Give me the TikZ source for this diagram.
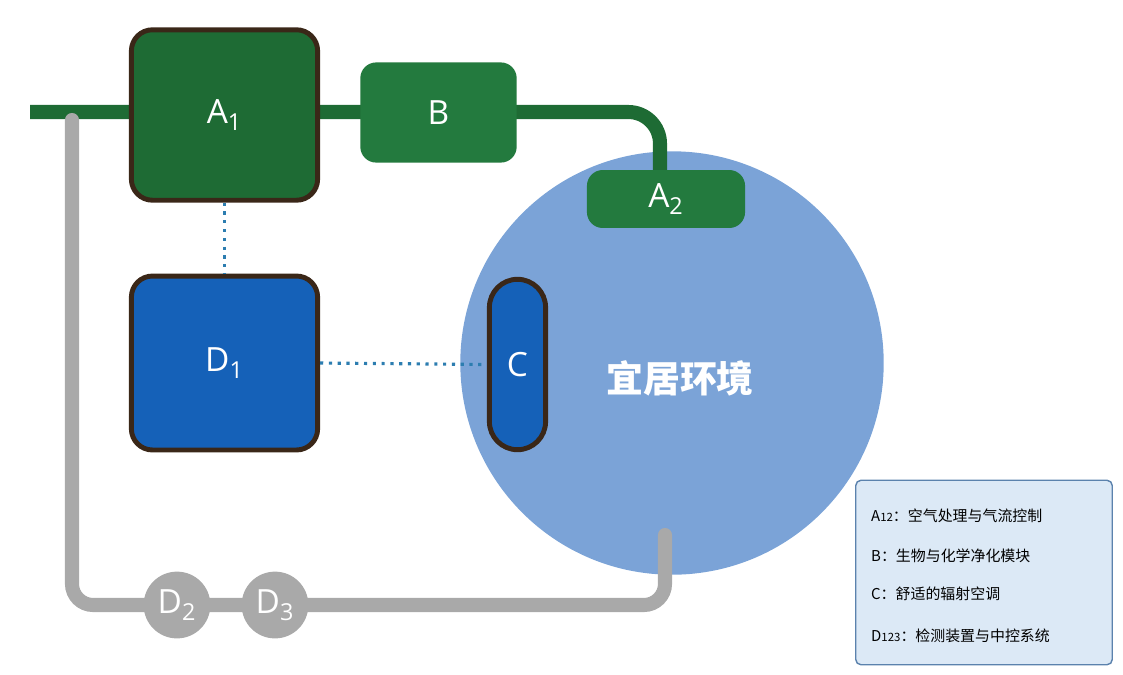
\documentclass[tikz,border=0pt]{standalone}
\usepackage{fontspec}
\setmainfont{Open Sans}
\newfontfamily\cjk{Noto Sans CJK SC}
\definecolor{dgreen}{HTML}{1E6B34}
\definecolor{mgreen}{HTML}{237A3E}
\definecolor{brd}{HTML}{3A2718}
\definecolor{dblue}{HTML}{1561B8}
\definecolor{lblue}{HTML}{7BA3D7}
\definecolor{pgray}{HTML}{A9A9A9}
\definecolor{dot}{HTML}{2C7DB0}
\definecolor{legf}{HTML}{DCE9F6}
\definecolor{legb}{HTML}{5B82AD}
\begin{document}
\begin{tikzpicture}[x=0.02cm,y=-0.02cm,
  box/.style={draw=brd,line width=2.8pt,rounded corners=12pt,text=white,font=\fontsize{19}{20}\selectfont},
  gbox/.style={fill=mgreen,rounded corners=9pt,text=white,font=\fontsize{19}{20}\selectfont},
  pipeG/.style={draw=dgreen,line width=8pt,rounded corners=18pt},
  pipeY/.style={draw=pgray,line width=8pt,rounded corners=12pt},
  dotl/.style={draw=dot,line width=1.8pt,dash pattern=on 1.8pt off 3.2pt},
  gc/.style={circle,fill=pgray,minimum size=38pt,inner sep=0pt,text=white,font=\fontsize{19}{20}\selectfont},
  leg/.style={anchor=west,font=\cjk\fontsize{8.5}{10}\selectfont,text=black}]
\useasboundingbox (0,0) rectangle (1123,674);
% circle
\node (env) [circle,fill=lblue,minimum size=241pt,inner sep=0pt] at (672,363) {};
% pipes
\coordinate (gs) at (30,112);
\coordinate (ge) at (660,185);
\draw[pipeG] (gs) -- (660,112) -- (ge);
\coordinate (ys) at (72,120);
\coordinate (ye) at (665,535);
\draw[pipeY,line cap=round] (ys) -- (72,605) -- (665,605) -- (ye);
% boxes
\node (A1) [box,fill=dgreen,minimum width=106pt,minimum height=97pt] at (224.5,115) {A\textsubscript{1}};
\node (B) [gbox,minimum width=89pt,minimum height=57pt] at (438.5,112.5) {B};
\node (A2) [gbox,minimum width=90pt,minimum height=33pt] at (666,199) {A\textsubscript{2}};
\node (D1) [box,fill=dblue,minimum width=106pt,minimum height=99pt] at (224.5,363) {D\textsubscript{1}};
\node (C) [box,fill=dblue,rounded corners=16pt,minimum width=32pt,minimum height=97pt] at (517.5,364.5) {C};
\draw[dotl] (A1.south) -- (D1.north);
\draw[dotl] (D1.east) -- (C.west);
\node (D2) [gc] at (177,605) {D\textsubscript{2}};
\node (D3) [gc] at (275,605) {D\textsubscript{3}};
\node (txt) [text=white,font=\cjk\bfseries\fontsize{21}{22}\selectfont] at (680,378) {宜居环境};
% legend
\node (lg) [draw=legb,fill=legf,line width=0.8pt,rounded corners=3pt,minimum width=146pt,minimum height=105pt] at (984,572.5) {};
\node (l1) [leg] at (865,516) {A{\fontsize{6.5}{7}\selectfont 12}：空气处理与气流控制};
\node (l2) [leg] at (865,556) {B：生物与化学净化模块};
\node (l3) [leg] at (865,594) {C：舒适的辐射空调};
\node (l4) [leg] at (865,636) {D{\fontsize{6.5}{7}\selectfont 123}：检测装置与中控系统};
\end{tikzpicture}
\end{document}
